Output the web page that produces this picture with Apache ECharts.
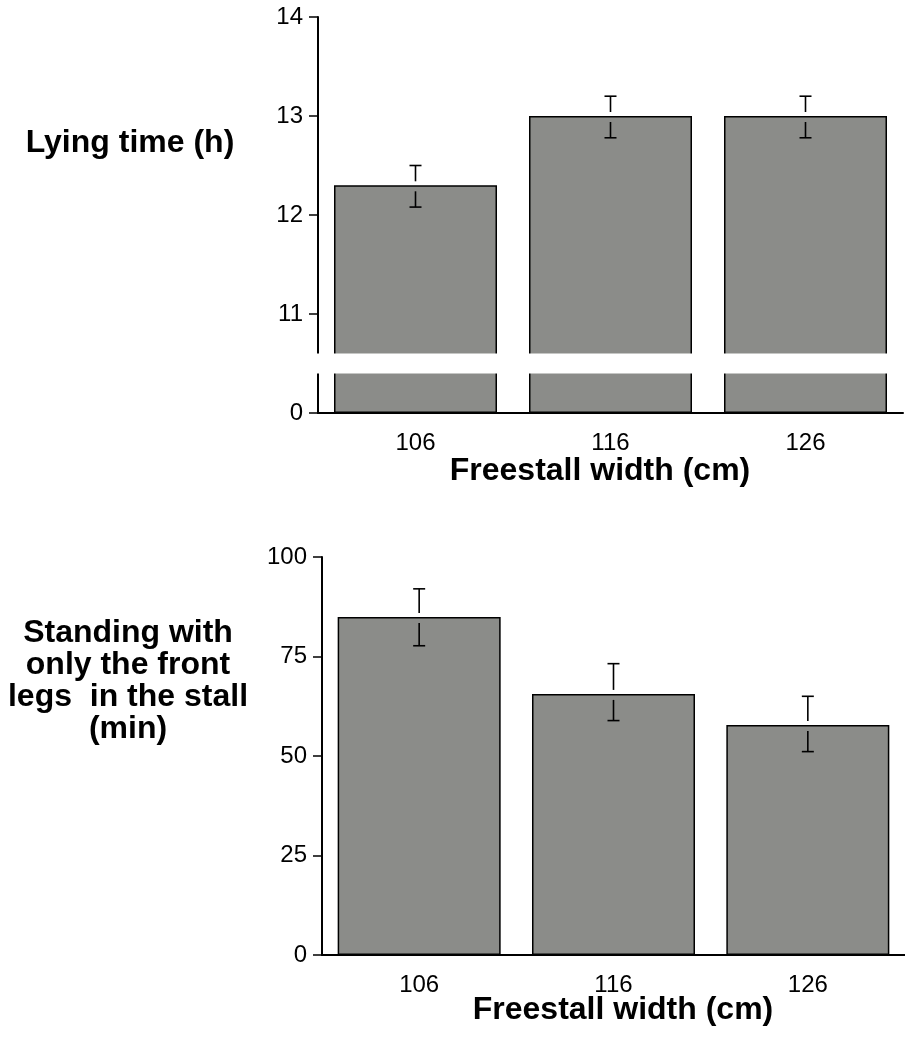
<!DOCTYPE html>
<html>
<head>
<meta charset="utf-8">
<script src="https://cdn.jsdelivr.net/npm/echarts@6/dist/echarts.min.js"></script>
<style>
  html, body { margin: 0; padding: 0; background: #ffffff; }
  #chart { width: 905px; height: 1047px; }
</style>
</head>
<body>
<div id="chart"></div>
<script>
// freestall width groups
const categories = ['106', '116', '126'];

// lying time (h), y axis is broken between 0 and 11
const lyingMean = [12.3, 13.0, 13.0];
const lyingLow = [12.08, 12.78, 12.78];
const lyingHigh = [12.5, 13.2, 13.2];
const lyingTicks = ['0', '11', '12', '13', '14'];

// standing with only the front legs in the stall (min)
const standMean = [84.9, 65.6, 57.8];
const standLow = [77.7, 58.9, 51.1];
const standHigh = [92.0, 73.2, 65.0];
const standTicks = ['0', '25', '50', '75', '100'];

// values above the break are drawn shifted down by this amount
const BREAK_OFFSET = 10;

const FONT = "'Liberation Sans', Arial, Helvetica, sans-serif";
const BAR_COLOR = '#8b8c89';

const chart = echarts.init(document.getElementById('chart'));

const shift = (arr) => arr.map((v) => v - BREAK_OFFSET);
const errData = (mean, low, high) => mean.map((m, i) => [i, m, low[i], high[i]]);

const errorBar = (params, api) => {
  const i = api.value(0);
  const [cx, top] = api.coord([i, api.value(1)]);
  const lo = api.coord([i, api.value(2)])[1];
  const hi = api.coord([i, api.value(3)])[1];
  const style = { stroke: '#000', lineWidth: 1.6 };
  return {
    type: 'group',
    children: [
      { type: 'line', shape: { x1: cx, y1: hi, x2: cx, y2: top - 4 }, style },
      { type: 'line', shape: { x1: cx - 6, y1: hi, x2: cx + 6, y2: hi }, style },
      { type: 'line', shape: { x1: cx, y1: top + 6, x2: cx, y2: lo }, style },
      { type: 'line', shape: { x1: cx - 6, y1: lo, x2: cx + 6, y2: lo }, style }
    ]
  };
};

// white band that cuts the bars and the axis on the top panel
const axisBreak = (params, api) => {
  const y1 = api.coord([0, 0.6])[1];
  const y2 = api.coord([0, 0.4])[1];
  const rect = params.coordSys;
  return {
    type: 'rect',
    shape: { x: rect.x - 3, y: y1, width: rect.width + 10, height: y2 - y1 },
    style: { fill: '#ffffff' }
  };
};

const xAxisBase = (gridIndex) => ({
  type: 'category',
  gridIndex,
  data: categories,
  axisLine: { lineStyle: { color: '#000', width: 2 } },
  axisTick: { alignWithLabel: true, length: 10, lineStyle: { color: '#000', width: 1.5 } },
  axisLabel: { color: '#000', fontSize: 24, fontFamily: FONT, margin: 18 }
});

const yAxisBase = (gridIndex, ticks) => ({
  type: 'value',
  gridIndex,
  min: 0,
  max: 4,
  interval: 1,
  splitLine: { show: false },
  axisLine: { show: true, lineStyle: { color: '#000', width: 2 } },
  axisTick: { show: true, length: 9, lineStyle: { color: '#000', width: 1.5 } },
  axisLabel: {
    color: '#000', fontSize: 24, fontFamily: FONT, margin: 15,
    formatter: (v) => ticks[Math.round(v)]
  }
});

chart.setOption({
  animation: false,
  grid: [
    { left: 318, top: 17, width: 585, height: 396 },
    { left: 322, top: 557, width: 587, height: 398 }
  ],
  xAxis: [xAxisBase(0), xAxisBase(1)],
  yAxis: [
    yAxisBase(0, lyingTicks),
    Object.assign(yAxisBase(1, standTicks), { min: 0, max: 100, interval: 25,
      axisLabel: { color: '#000', fontSize: 24, fontFamily: FONT, margin: 15 } })
  ],
  series: [
    {
      type: 'bar',
      xAxisIndex: 0,
      yAxisIndex: 0,
      data: shift(lyingMean),
      barWidth: 163,
      itemStyle: { color: BAR_COLOR, borderColor: '#000', borderWidth: 1.5 }
    },
    {
      type: 'custom',
      xAxisIndex: 0,
      yAxisIndex: 0,
      z: 5,
      data: [[0]],
      renderItem: axisBreak
    },
    {
      type: 'custom',
      xAxisIndex: 0,
      yAxisIndex: 0,
      z: 6,
      encode: { x: 0, y: [1, 2, 3] },
      data: errData(shift(lyingMean), shift(lyingLow), shift(lyingHigh)),
      renderItem: errorBar
    },
    {
      type: 'bar',
      xAxisIndex: 1,
      yAxisIndex: 1,
      data: standMean,
      barWidth: 163,
      itemStyle: { color: BAR_COLOR, borderColor: '#000', borderWidth: 1.5 }
    },
    {
      type: 'custom',
      xAxisIndex: 1,
      yAxisIndex: 1,
      z: 6,
      encode: { x: 0, y: [1, 2, 3] },
      data: errData(standMean, standLow, standHigh),
      renderItem: errorBar
    }
  ],
  graphic: [
    {
      type: 'text', x: 130, y: 143,
      style: { text: 'Lying time (h)', fill: '#000', fontSize: 32, fontWeight: 'bold',
        fontFamily: FONT, align: 'center', verticalAlign: 'middle' }
    },
    {
      type: 'text', x: 600, y: 471,
      style: { text: 'Freestall width (cm)', fill: '#000', fontSize: 32, fontWeight: 'bold',
        fontFamily: FONT, align: 'center', verticalAlign: 'middle' }
    },
    {
      type: 'text', x: 128, y: 681,
      style: { text: 'Standing with\nonly the front\nlegs  in the stall\n(min)', fill: '#000',
        fontSize: 32, fontWeight: 'bold', lineHeight: 32, fontFamily: FONT,
        align: 'center', verticalAlign: 'middle' }
    },
    {
      type: 'text', x: 623, y: 1010,
      style: { text: 'Freestall width (cm)', fill: '#000', fontSize: 32, fontWeight: 'bold',
        fontFamily: FONT, align: 'center', verticalAlign: 'middle' }
    }
  ]
});
</script>
</body>
</html>
